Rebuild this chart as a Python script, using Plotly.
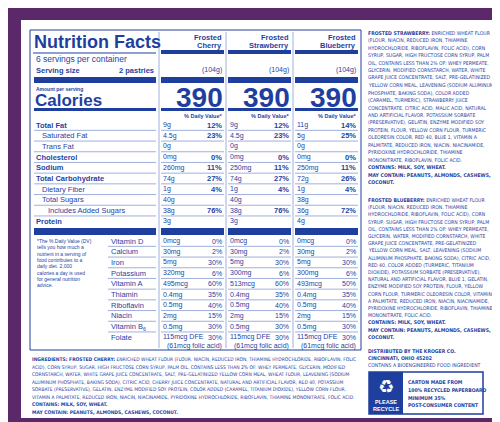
import plotly.graph_objects as go

BLUE = "#1f3f9f"
LIGHT = "#9fb0dc"
PURPLE = "#5b2869"

flavors = ["Cherry", "Strawberry", "Blueberry"]
calories = [390, 390, 390]
serving_g = ["(104g)", "(104g)", "(104g)"]

nutrients = ["Total Fat", "Saturated Fat", "Trans Fat", "Cholesterol", "Sodium",
             "Total Carbohydrate", "Dietary Fiber", "Total Sugars", "Includes Added Sugars", "Protein"]
nutrient_bold = [True, False, False, True, True, True, False, False, False, True]
nutrient_indent = [0, 1, 1, 0, 0, 0, 1, 1, 2, 0]
amounts = [
    ["9g", "4.5g", "0g", "0mg", "260mg", "74g", "1g", "40g", "38g", "3g"],
    ["9g", "4.5g", "0g", "0mg", "250mg", "74g", "1g", "40g", "38g", "3g"],
    ["11g", "5g", "0g", "0mg", "250mg", "72g", "1g", "38g", "36g", "4g"],
]
dv = [
    ["12%", "23%", "", "0%", "11%", "27%", "4%", "", "76%", ""],
    ["12%", "23%", "", "0%", "11%", "27%", "4%", "", "76%", ""],
    ["14%", "25%", "", "0%", "11%", "26%", "4%", "", "72%", ""],
]
vitamins = ["Vitamin D", "Calcium", "Iron", "Potassium", "Vitamin A", "Thiamin",
            "Riboflavin", "Niacin", "Vitamin B<sub>6</sub>", "Folate"]
vit_amounts = [
    ["0mcg", "30mg", "5mg", "320mg", "495mcg", "0.4mg", "0.5mg", "2mg", "0.5mg", "115mcg DFE"],
    ["0mcg", "30mg", "5mg", "300mg", "513mcg", "0.4mg", "0.5mg", "2mg", "0.5mg", "115mcg DFE"],
    ["0mcg", "30mg", "5mg", "300mg", "493mcg", "0.4mg", "0.5mg", "2mg", "0.5mg", "115mcg DFE"],
]
vit_dv = [
    ["0%", "2%", "30%", "6%", "60%", "35%", "40%", "15%", "30%", "30%"],
    ["0%", "2%", "30%", "6%", "60%", "35%", "40%", "15%", "30%", "30%"],
    ["0%", "2%", "30%", "6%", "50%", "35%", "40%", "15%", "30%", "30%"],
]
folic = "(61mcg folic acid)"

footnote = ["*The % Daily Value (DV)", "tells you how much a", "nutrient in a serving of",
            "food contributes to a", "daily diet. 2,000", "calories a day is used",
            "for general nutrition", "advice."]

cherry_ing = [
    "<b>INGREDIENTS: FROSTED CHERRY:</b> ENRICHED WHEAT FLOUR (FLOUR, NIACIN, REDUCED IRON, THIAMINE HYDROCHLORIDE, RIBOFLAVIN, FOLIC",
    "ACID), CORN SYRUP, SUGAR, HIGH FRUCTOSE CORN SYRUP, PALM OIL, CONTAINS LESS THAN 2% OF: WHEY PERMEATE, GLYCERIN, MODIFIED",
    "CORNSTARCH, WATER, WHITE GRAPE JUICE CONCENTRATE, SALT, PRE-GELATINIZED YELLOW CORN MEAL, WHEAT FLOUR, LEAVENING (SODIUM",
    "ALUMINUM PHOSPHATE, BAKING SODA), CITRIC ACID, CHERRY JUICE CONCENTRATE, NATURAL AND ARTIFICIAL FLAVOR, RED 40, POTASSIUM",
    "SORBATE (PRESERVATIVE), GELATIN, ENZYME MODIFIED SOY PROTEIN, COLOR ADDED (CARAMEL, TITANIUM DIOXIDE), YELLOW CORN FLOUR,",
    "VITAMIN A PALMITATE, REDUCED IRON, NIACIN, NIACINAMIDE, PYRIDOXINE HYDROCHLORIDE, RIBOFLAVIN, THIAMINE MONONITRATE, FOLIC ACID.",
    "<b>CONTAINS: MILK, SOY, WHEAT.</b>",
    "<b>MAY CONTAIN: PEANUTS, ALMONDS, CASHEWS, COCONUT.</b>",
]
straw_ing = [
    "<b>FROSTED STRAWBERRY:</b> ENRICHED WHEAT FLOUR",
    "(FLOUR, NIACIN, REDUCED IRON, THIAMINE",
    "HYDROCHLORIDE, RIBOFLAVIN, FOLIC ACID), CORN",
    "SYRUP, SUGAR, HIGH FRUCTOSE CORN SYRUP, PALM",
    "OIL, CONTAINS LESS THAN 2% OF: WHEY PERMEATE,",
    "GLYCERIN, MODIFIED CORNSTARCH, WATER, WHITE",
    "GRAPE JUICE CONCENTRATE, SALT, PRE-GELATINIZED",
    "YELLOW CORN MEAL, LEAVENING (SODIUM ALUMINUM",
    "PHOSPHATE, BAKING SODA), COLOR ADDED",
    "(CARAMEL, TURMERIC), STRAWBERRY JUICE",
    "CONCENTRATE, CITRIC ACID, MALIC ACID, NATURAL",
    "AND ARTIFICIAL FLAVOR, POTASSIUM SORBATE",
    "(PRESERVATIVE), GELATIN, ENZYME MODIFIED SOY",
    "PROTEIN, FLOUR, YELLOW CORN FLOUR, TURMERIC",
    "OLEORESIN COLOR, RED 40, BLUE 1, VITAMIN A",
    "PALMITATE, REDUCED IRON, NIACIN, NIACINAMIDE,",
    "PYRIDOXINE HYDROCHLORIDE, THIAMINE",
    "MONONITRATE, RIBOFLAVIN, FOLIC ACID.",
    "<b>CONTAINS: MILK, SOY, WHEAT.</b>",
    "<b>MAY CONTAIN: PEANUTS, ALMONDS, CASHEWS,</b>",
    "<b>COCONUT.</b>",
]
blue_ing = [
    "<b>FROSTED BLUEBERRY:</b> ENRICHED WHEAT FLOUR",
    "(FLOUR, NIACIN, REDUCED IRON, THIAMINE",
    "HYDROCHLORIDE, RIBOFLAVIN, FOLIC ACID), CORN",
    "SYRUP, SUGAR, HIGH FRUCTOSE CORN SYRUP, PALM",
    "OIL, CONTAINS LESS THAN 2% OF: WHEY PERMEATE,",
    "GLYCERIN, WATER, MODIFIED CORNSTARCH, WHITE",
    "GRAPE JUICE CONCENTRATE, PRE-GELATINIZED",
    "YELLOW CORN MEAL, SALT, LEAVENING (SODIUM",
    "ALUMINUM PHOSPHATE, BAKING SODA), CITRIC ACID,",
    "RED 40, COLOR ADDED (TURMERIC, TITANIUM",
    "DIOXIDE), POTASSIUM SORBATE (PRESERVATIVE),",
    "NATURAL AND ARTIFICIAL FLAVOR, BLUE 1, GELATIN,",
    "ENZYME MODIFIED SOY PROTEIN, FLOUR, YELLOW",
    "CORN FLOUR, TURMERIC OLEORESIN COLOR, VITAMIN",
    "A PALMITATE, REDUCED IRON, NIACIN, NIACINAMIDE,",
    "PYRIDOXINE HYDROCHLORIDE, RIBOFLAVIN, THIAMINE",
    "MONONITRATE, FOLIC ACID.",
    "<b>CONTAINS: MILK, SOY, WHEAT.</b>",
    "<b>MAY CONTAIN: PEANUTS, ALMONDS, CASHEWS,</b>",
    "<b>COCONUT.</b>",
]
distrib = ["<b>DISTRIBUTED BY THE KROGER CO.</b>", "<b>CINCINNATI, OHIO 45202</b>",
           "CONTAINS A BIOENGINEERED FOOD INGREDIENT"]
carton = ["<b>CARTON MADE FROM</b>", "<b>100% RECYCLED PAPERBOARD</b>",
          "<b>MINIMUM 35%</b>", "<b>POST-CONSUMER CONTENT</b>"]

fig = go.Figure()
shapes = []
ann = []
FONT = "Liberation Sans"
NARROW = "Liberation Sans Narrow, DejaVu Sans Condensed, Liberation Sans"

def rect(x0, y0, x1, y1, fill=BLUE, line=None, lw=0):
    shapes.append(dict(type="rect", x0=x0, y0=y0, x1=x1, y1=y1, xref="x", yref="y",
                       fillcolor=fill, line=dict(color=line or fill, width=lw)))

def hline(x0, x1, y, color=LIGHT, w=1):
    shapes.append(dict(type="line", x0=x0, x1=x1, y0=y, y1=y, xref="x", yref="y",
                       line=dict(color=color, width=w)))

def vline(x, y0, y1, color=BLUE, w=1):
    shapes.append(dict(type="line", x0=x, x1=x, y0=y0, y1=y1, xref="x", yref="y",
                       line=dict(color=color, width=w)))

def text(x, y, s, size=7, anchor="left", color=BLUE, bold=False, family=FONT):
    if bold:
        s = "<b>" + s + "</b>"
    ann.append(dict(x=x, y=y, xref="x", yref="y", text=s, showarrow=False,
                    xanchor=anchor, yanchor="middle", font=dict(size=size, color=color, family=family)))

rect(0, 0, 500, 422, fill=PURPLE)
rect(13, 12, 489, 410, fill="white")
rect(22, 22, 353, 342, fill="rgba(0,0,0,0)", line=BLUE, lw=1)

text(24, 34, "Nutrition Facts", size=18, bold=True)
hline(25, 148, 45, color=BLUE)
text(26, 51, "6 servings per container", size=8.5)
text(26, 62, "Serving size", size=7.5, bold=True)
text(148, 62, "2 pastries", size=7.5, bold=True, anchor="right")
rect(26, 69, 148, 75)
text(26, 81, "Amount per serving", size=5, bold=True)
text(25, 92, "Calories", size=17, bold=True)
rect(26, 100, 148, 103)

cols = [(153, 216), (220, 283), (287, 350)]
for x in [151, 218, 285]:
    vline(x, 24, 340, color=LIGHT)

row0, dy = 117, 10.7
for i, name in enumerate(nutrients):
    y = row0 + i * dy
    text(26 + 6 * nutrient_indent[i], y, name, size=7.5, bold=nutrient_bold[i])
    if i < len(nutrients) - 1:
        hline(26, 148, y + dy / 2)
        for c0, c1 in cols:
            hline(c0, c1, y + dy / 2)

for j, (c0, c1) in enumerate(cols):
    text(c1, 29, "Frosted", size=7.5, anchor="right", bold=True)
    text(c1, 37, flavors[j], size=7.5, anchor="right", bold=True)
    rect(c0, 42, c1, 46)
    text(c1, 62, serving_g[j], size=7, anchor="right")
    rect(c0, 69, c1, 75)
    text(c1 + 1, 89, str(calories[j]), size=28, anchor="right", bold=True)
    rect(c0, 100, c1, 103)
    text(c1, 108, "% Daily Value*", size=5.5, anchor="right", bold=True)
    for i in range(len(nutrients)):
        y = row0 + i * dy
        text(c0, y, amounts[j][i], size=7)
        if dv[j][i]:
            text(c1, y, dv[j][i], size=7.5, anchor="right", bold=True)
    rect(c0, 220, c1, 227)

rect(26, 220, 148, 227)

vrow0 = 233
for i, v in enumerate(vitamins):
    y = vrow0 + i * 10.7
    text(101, y, v, size=7.5)
    if i < len(vitamins) - 1:
        hline(100, 148, y + 5.35)
        for c0, c1 in cols:
            hline(c0, c1, y + 5.35)
    for j, (c0, c1) in enumerate(cols):
        text(c0, y, vit_amounts[j][i], size=7)
        text(c1, y, vit_dv[j][i], size=7, anchor="right")
for j, (c0, c1) in enumerate(cols):
    text(c1, 338, folic, size=7, anchor="right")

for i, s in enumerate(footnote):
    text(27, 233 + i * 6.3, s, size=5)

for i, s in enumerate(cherry_ing):
    text(22, 351 + i * 7.5, s, size=4.95, family=NARROW)
for i, s in enumerate(straw_ing):
    text(358, 25 + i * 7.45, s, size=5.1, family=NARROW)
for i, s in enumerate(blue_ing):
    text(358, 192 + i * 7.2, s, size=5.1, family=NARROW)
for i, s in enumerate(distrib):
    text(358, 343 + i * 7.2, s, size=5.1, family=NARROW)

rect(361, 364, 475, 406, fill="white", line=BLUE, lw=1.5)
rect(361, 364, 395, 406)
text(378, 378, "♻", size=18, anchor="center", color="white", family="DejaVu Sans")
text(378, 394, "<b>PLEASE</b>", size=5.5, anchor="center", color="white")
text(378, 401, "<b>RECYCLE</b>", size=5.5, anchor="center", color="white")
for i, s in enumerate(carton):
    text(398, 374 + i * 7.8, s, size=5.1, family=NARROW)

fig.update_layout(width=500, height=422, margin=dict(l=0, r=0, t=0, b=0),
                  paper_bgcolor=PURPLE, plot_bgcolor=PURPLE, shapes=shapes, annotations=ann,
                  xaxis=dict(range=[0, 500], visible=False, fixedrange=True),
                  yaxis=dict(range=[422, 0], visible=False, fixedrange=True),
                  showlegend=False)
fig.write_html("out.html", config={"displayModeBar": False})
